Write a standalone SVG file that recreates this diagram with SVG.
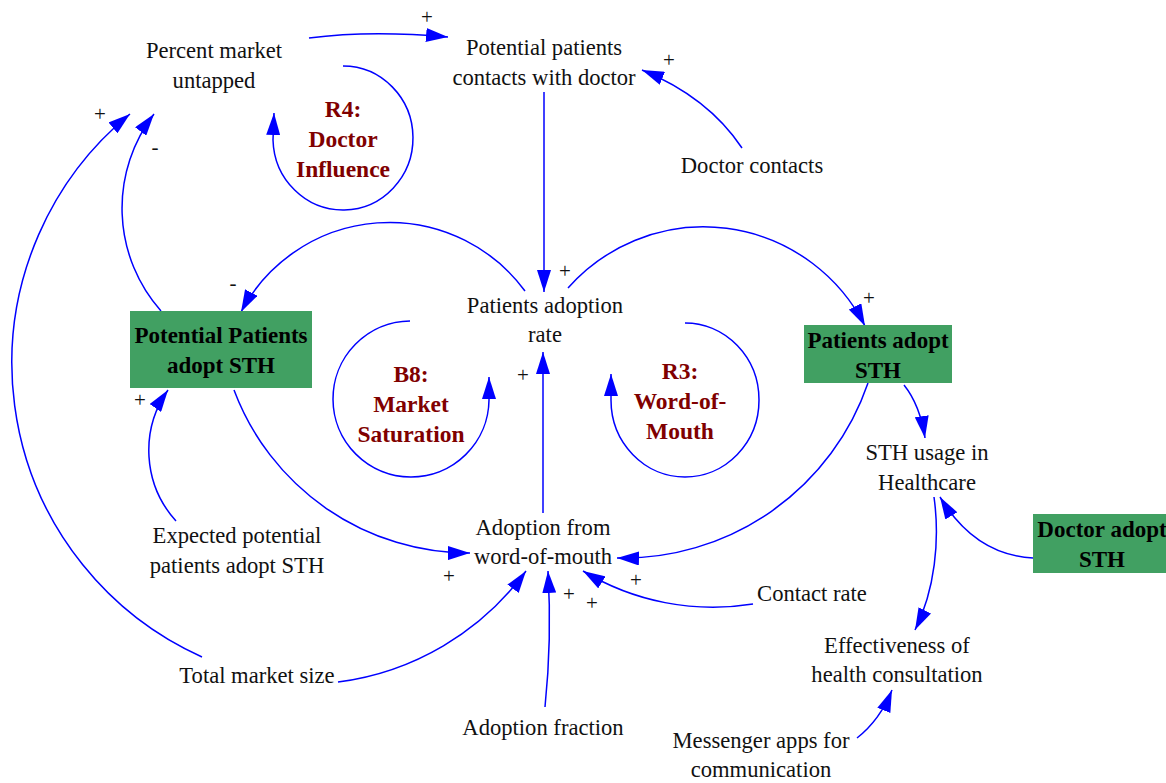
<svg xmlns="http://www.w3.org/2000/svg" width="1166" height="783" viewBox="0 0 1166 783">
  <defs>
    <marker id="ah" viewBox="0 0 22 14" refX="22" refY="7" markerWidth="22" markerHeight="14" markerUnits="userSpaceOnUse" orient="auto">
      <path d="M0,0 L22,7 L0,14 z" fill="#0000FF"/>
    </marker>
    <style>
      text { font-family: "Liberation Serif", "Times New Roman", serif; font-size: 22.6px; fill: #111; text-anchor: middle; }
      .bold { font-weight: bold; fill: #000; font-size: 23px; }
      .loop { font-weight: bold; fill: #800000; font-size: 23.5px; }
      .pol { font-size: 21px; fill: #111; }
      .box { fill: #41A062; }
      .link { fill: none; stroke: #0000FF; stroke-width: 1.5; marker-end: url(#ah); }
    </style>
  </defs>
  <rect width="1166" height="783" fill="#fff"/>

  <!-- causal links and loop arcs -->
  <g id="connectors">
    <path class="link" d="M309,38 Q370,30 448,37"/>
    <path class="link" d="M742,148 Q708,97 642,70"/>
    <path class="link" d="M544,92 L544,292"/>
    <path class="link" d="M525,291 A168,168 0 0 0 241,312"/>
    <path class="link" d="M568,288 A181,181 0 0 1 865,326"/>
    <path class="link" d="M161,311 A155,155 0 0 1 154,114"/>
    <path class="link" d="M202,657 A322,322 0 0 1 130,114"/>
    <path class="link" d="M176,521 A105,105 0 0 1 168,390"/>
    <path class="link" d="M234,390 A251,251 0 0 0 470,553"/>
    <path class="link" d="M543,513 L543,352"/>
    <path class="link" d="M868,383 A259,259 0 0 1 617,558"/>
    <path class="link" d="M904,385 Q920,405 925,438"/>
    <path class="link" d="M753,604 A251,251 0 0 1 583,571"/>
    <path class="link" d="M338,682 A277,277 0 0 0 526,571"/>
    <path class="link" d="M545,707 Q552,640 548,571"/>
    <path class="link" d="M934,497 C940,540 935,590 915,630"/>
    <path class="link" d="M1033,558 Q975,555 940,497"/>
    <path class="link" d="M857,738 Q880,720 892,690"/>
    <!-- loop arcs -->
    <path class="link" d="M343,66 A70,72 0 1 1 273,140 L274,113"/>
    <path class="link" d="M410,321 A78,78 0 1 0 489,400 L489,377"/>
    <path class="link" d="M685,323 A74,77 0 1 1 611,400 L611,374"/>
  </g>

  <!-- polarity signs -->
  <g id="polarities">
    <text class="pol" x="427" y="24">+</text>
    <text class="pol" x="669" y="67">+</text>
    <text class="pol" x="565" y="278">+</text>
    <text class="pol" x="869" y="305">+</text>
    <text class="pol" x="233" y="290">-</text>
    <text class="pol" x="155" y="154">-</text>
    <text class="pol" x="100" y="121">+</text>
    <text class="pol" x="140" y="407">+</text>
    <text class="pol" x="523" y="382">+</text>
    <text class="pol" x="449" y="583">+</text>
    <text class="pol" x="569" y="601">+</text>
    <text class="pol" x="592" y="610">+</text>
    <text class="pol" x="636" y="587">+</text>
  </g>

  <!-- loop labels -->
  <g id="loop-R4">
    <text class="loop" x="343" y="117">R4:</text>
    <text class="loop" x="343" y="147">Doctor</text>
    <text class="loop" x="343" y="177">Influence</text>
  </g>
  <g id="loop-B8">
    <text class="loop" x="411" y="382">B8:</text>
    <text class="loop" x="411" y="412">Market</text>
    <text class="loop" x="411" y="442">Saturation</text>
  </g>
  <g id="loop-R3">
    <text class="loop" x="680" y="379">R3:</text>
    <text class="loop" x="680" y="409">Word-of-</text>
    <text class="loop" x="680" y="439">Mouth</text>
  </g>

  <!-- variables -->
  <g id="percent-market-untapped">
    <text x="214" y="58">Percent market</text>
    <text x="214" y="88">untapped</text>
  </g>
  <g id="potential-patients-contacts">
    <text x="544" y="55">Potential patients</text>
    <text x="544" y="85">contacts with doctor</text>
  </g>
  <g id="doctor-contacts">
    <text x="752" y="173">Doctor contacts</text>
  </g>
  <g id="patients-adoption-rate">
    <text x="545" y="313">Patients adoption</text>
    <text x="545" y="342">rate</text>
  </g>
  <g id="potential-patients-adopt">
    <rect class="box" x="130" y="311" width="182" height="77"/>
    <text class="bold" x="221" y="343">Potential Patients</text>
    <text class="bold" x="221" y="373">adopt STH</text>
  </g>
  <g id="patients-adopt">
    <rect class="box" x="804" y="325" width="148" height="58"/>
    <text class="bold" x="878" y="348">Patients adopt</text>
    <text class="bold" x="878" y="378">STH</text>
  </g>
  <g id="sth-usage">
    <text x="927" y="460">STH usage in</text>
    <text x="927" y="490">Healthcare</text>
  </g>
  <g id="doctor-adopt">
    <rect class="box" x="1033" y="514" width="140" height="59"/>
    <text class="bold" x="1102" y="537">Doctor adopt</text>
    <text class="bold" x="1102" y="567">STH</text>
  </g>
  <g id="expected-potential">
    <text x="237" y="543">Expected potential</text>
    <text x="237" y="573">patients adopt STH</text>
  </g>
  <g id="adoption-wom">
    <text x="543" y="535">Adoption from</text>
    <text x="543" y="564">word-of-mouth</text>
  </g>
  <g id="contact-rate">
    <text x="812" y="601">Contact rate</text>
  </g>
  <g id="total-market-size">
    <text x="257" y="683">Total market size</text>
  </g>
  <g id="adoption-fraction">
    <text x="543" y="735">Adoption fraction</text>
  </g>
  <g id="effectiveness">
    <text x="897" y="653">Effectiveness of</text>
    <text x="897" y="682">health consultation</text>
  </g>
  <g id="messenger-apps">
    <text x="761" y="748">Messenger apps for</text>
    <text x="761" y="777">communication</text>
  </g>
</svg>
